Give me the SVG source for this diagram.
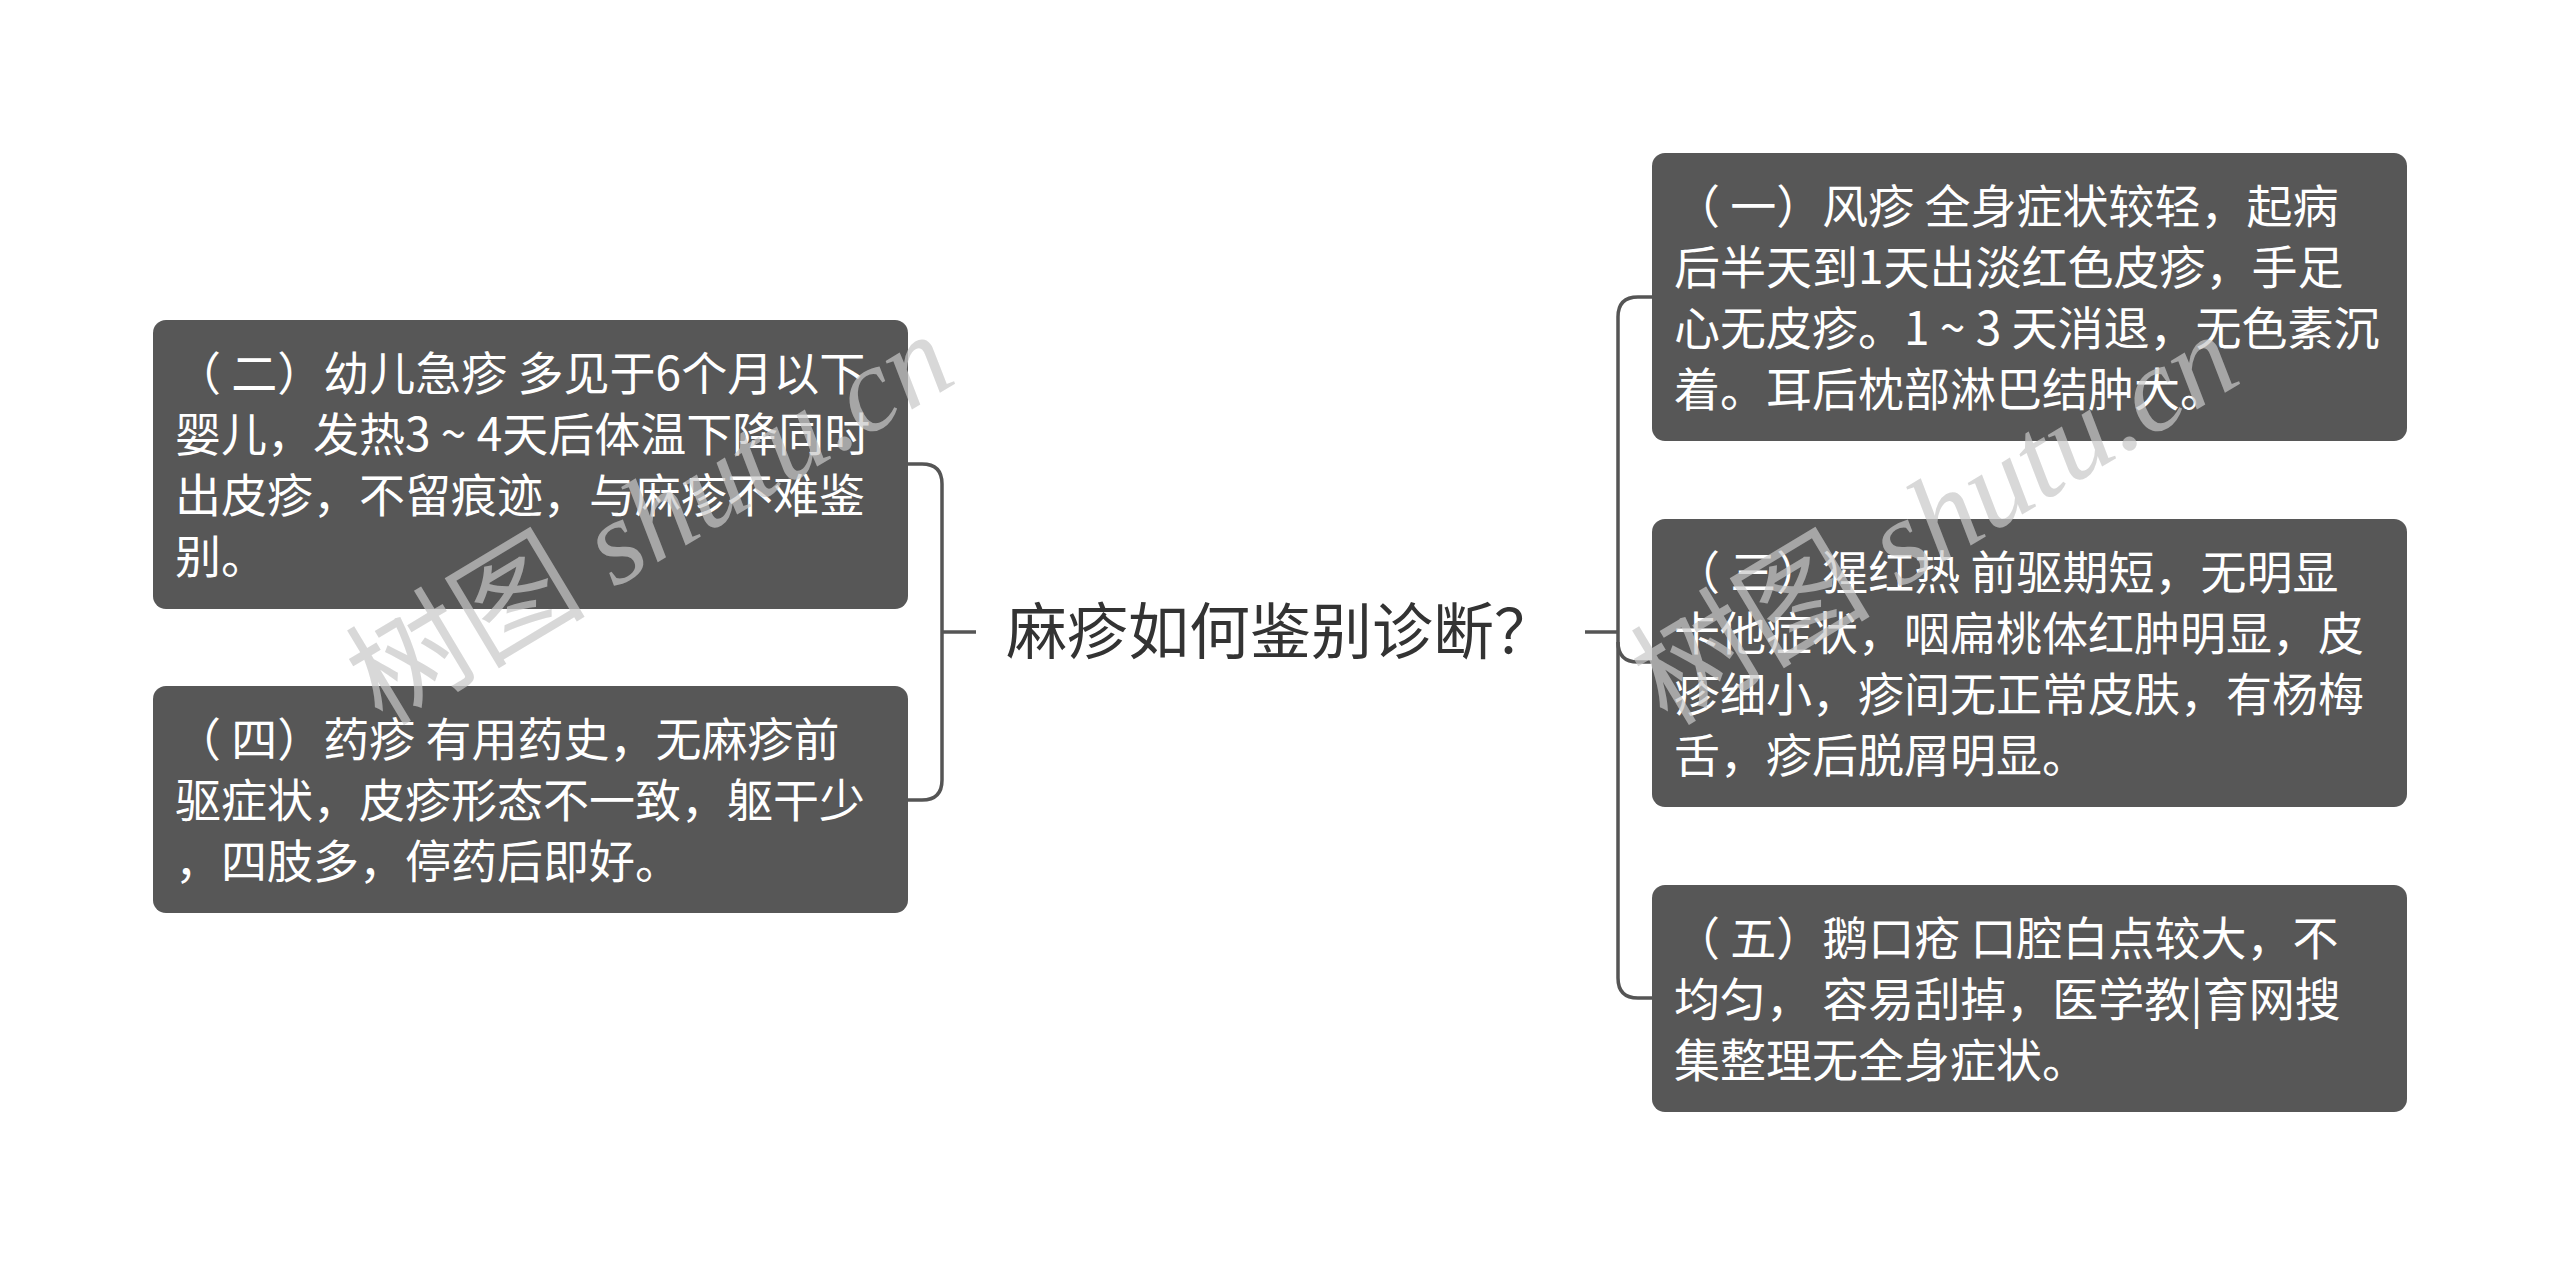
<svg xmlns="http://www.w3.org/2000/svg" width="2560" height="1265" viewBox="0 0 2560 1265">
<style>
.box{fill:#575757;}
.t{font-family:"Noto Sans CJK SC","Noto Sans",sans-serif;font-size:46px;fill:#ffffff;}
.title{font-family:"Noto Sans CJK SC","Noto Sans",sans-serif;font-size:61px;fill:#333333;}
.conn{fill:none;stroke:#555555;stroke-width:3.5;}
.wm{font-family:"Liberation Serif","Noto Sans CJK SC",serif;font-size:120px;fill:#c8c8c8;fill-opacity:0.7;}
</style>
<rect width="2560" height="1265" fill="#ffffff"/>
<g id="connectors">
<path class="conn" d="M942,632 H976"/>
<path class="conn" d="M908,464 H922 Q942,464 942,484 V780 Q942,800 922,800 H908"/>
<path class="conn" d="M1585,632 H1618"/>
<path class="conn" d="M1652,297 H1638 Q1618,297 1618,317 V978 Q1618,998 1638,998 H1652"/>
<path class="conn" d="M1618,642 Q1618,662 1638,662 H1652"/>
</g>
<g id="root">
<text class="title" x="1006" y="654">麻疹如何鉴别诊断？</text>
</g>
<g id="node-2">
<rect class="box" x="153" y="320" width="755" height="289" rx="13"/>
<text class="t" x="175" y="390">（ 二）幼儿急疹 多见于6个月以下</text>
<text class="t" x="175" y="451">婴儿，发热3 ~ 4天后体温下降同时</text>
<text class="t" x="175" y="512">出皮疹，不留痕迹，与麻疹不难鉴</text>
<text class="t" x="175" y="573">别。</text>
</g>
<g id="node-4">
<rect class="box" x="153" y="686" width="755" height="227" rx="13"/>
<text class="t" x="175" y="756">（ 四）药疹 有用药史，无麻疹前</text>
<text class="t" x="175" y="817">驱症状，皮疹形态不一致，躯干少</text>
<text class="t" x="175" y="878">，四肢多，停药后即好。</text>
</g>
<g id="node-1">
<rect class="box" x="1652" y="153" width="755" height="288" rx="13"/>
<text class="t" x="1674" y="223">（ 一）风疹 全身症状较轻，起病</text>
<text class="t" x="1674" y="284">后半天到1天出淡红色皮疹，手足</text>
<text class="t" x="1674" y="345">心无皮疹。1 ~ 3 天消退，无色素沉</text>
<text class="t" x="1674" y="406">着。耳后枕部淋巴结肿大。</text>
</g>
<g id="node-3">
<rect class="box" x="1652" y="519" width="755" height="288" rx="13"/>
<text class="t" x="1674" y="589">（ 三）猩红热 前驱期短，无明显</text>
<text class="t" x="1674" y="650">卡他症状，咽扁桃体红肿明显，皮</text>
<text class="t" x="1674" y="711">疹细小，疹间无正常皮肤，有杨梅</text>
<text class="t" x="1674" y="772">舌，疹后脱屑明显。</text>
</g>
<g id="node-5">
<rect class="box" x="1652" y="885" width="755" height="227" rx="13"/>
<text class="t" x="1674" y="955">（ 五）鹅口疮 口腔白点较大，不</text>
<text class="t" x="1674" y="1016" xml:space="preserve">均匀， 容易刮掉，医学教|育网搜</text>
<text class="t" x="1674" y="1077">集整理无全身症状。</text>
</g>
<g id="watermarks">
<text class="wm" transform="translate(650,519) rotate(-31)" text-anchor="middle" dominant-baseline="central">树图 <tspan font-style="italic">shutu.cn</tspan></text>
<text class="wm" transform="translate(1935,519) rotate(-31)" text-anchor="middle" dominant-baseline="central">树图 <tspan font-style="italic">shutu.cn</tspan></text>
</g>
</svg>
